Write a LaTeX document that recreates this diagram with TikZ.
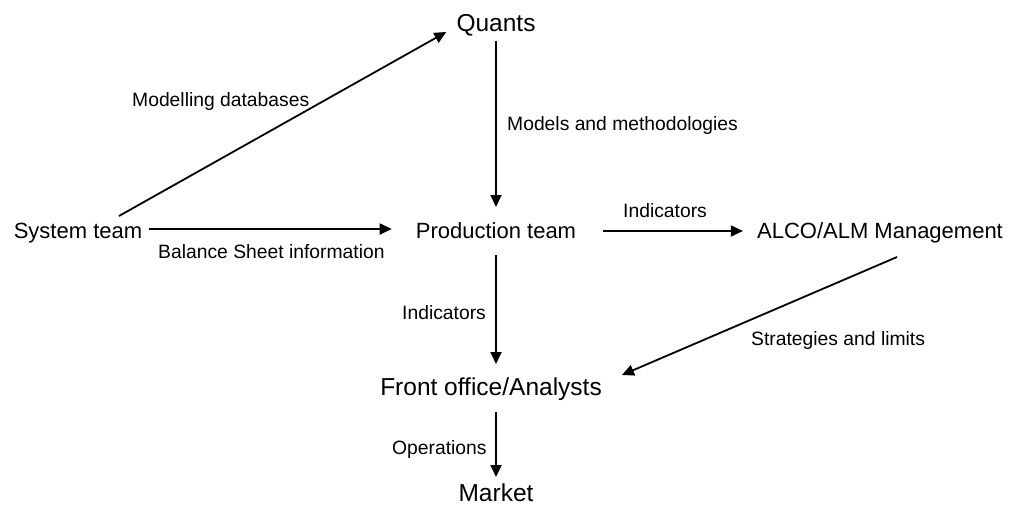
\documentclass[tikz,border=0pt]{standalone}
\usepackage{fontspec}
\setmainfont{Liberation Sans}
\usetikzlibrary{arrows.meta,calc}
\tikzset{
  main/.style={inner sep=0pt, anchor=base, font=\fontsize{22}{26}\selectfont},
  big/.style={main, font=\fontsize{24.5}{29}\selectfont},
  lbl/.style={inner sep=0pt, anchor=base west, font=\fontsize{19.3}{23}\selectfont},
  arr/.style={line width=1.8pt, -{Triangle[length=12pt,width=11pt]}}
}
\begin{document}
\begin{tikzpicture}[x=1pt,y=-1pt]
\useasboundingbox (0,0) rectangle (1011,513);
% nodes
\node[big] (quants) at (496,32) {Quants};
\node[main] (sys) at (78,238) {System team};
\node[main] (prod) at (496,238) {Production team};
\node[main] (alco) at (880,238) {ALCO/ALM Management};
\node[big] (front) at (491,395) {Front office/Analysts};
\node[big] (market) at (496,501) {Market};
% connectors
\draw[arr] ($(sys.base)+(41,-22)$) -- ($(quants.base west)+(-10,0)$);
\draw[arr] ($(quants.base)+(0,9)$) -- ($(prod.base)+(0,-31)$);
\draw[arr] ($(sys.base east)+(7,-9)$) -- ($(prod.base west)+(-24,-9)$);
\draw[arr] ($(prod.base east)+(27,-7)$) -- ($(alco.base west)+(-14,-7)$);
\draw[arr] ($(prod.base)+(0,17)$) -- ($(prod.base |- front.base)+(0,-31)$);
\draw[arr] ($(alco.base)+(17,19)$) -- ($(front.base east)+(20,-20)$);
\draw[arr] ($(prod.base |- front.base)+(0,17)$) -- ($(prod.base |- market.base)+(0,-24)$);
% labels
\node[lbl] (l1) at (132,107) {Modelling databases};
\node[lbl] (l2) at (507,131) {Models and methodologies};
\node[lbl] (l3) at (158,258) {Balance Sheet information};
\node[lbl] (l4) at (623,217) {Indicators};
\node[lbl] (l5) at (402,319) {Indicators};
\node[lbl] (l6) at (751,345) {Strategies and limits};
\node[lbl] (l7) at (392,454) {Operations};
\end{tikzpicture}
\end{document}
